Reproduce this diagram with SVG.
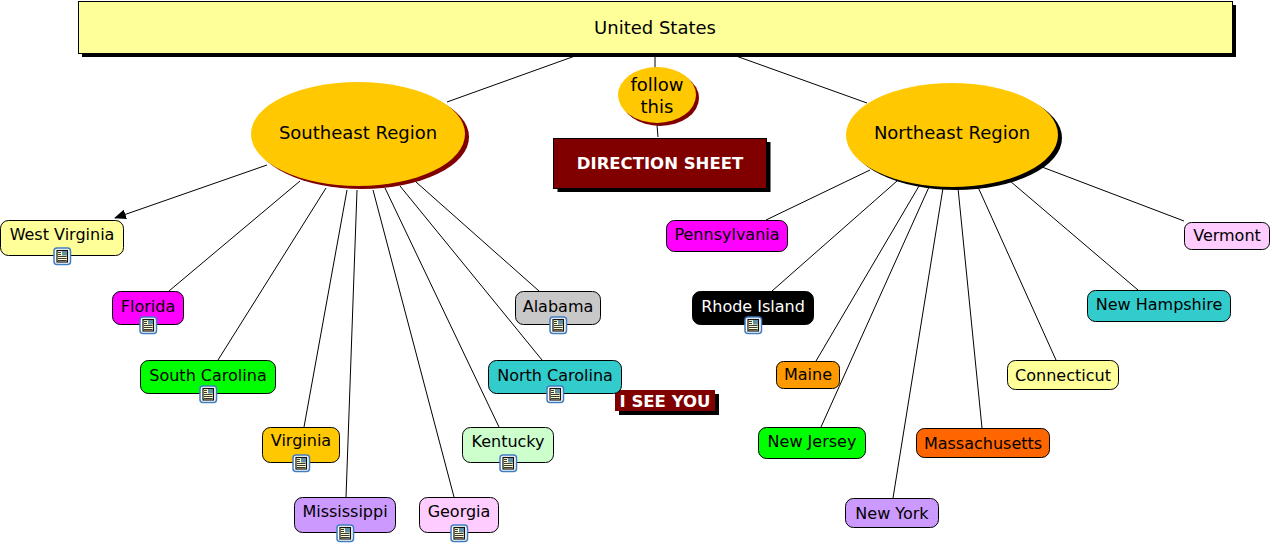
<svg xmlns="http://www.w3.org/2000/svg" width="1272" height="545" viewBox="0 0 1272 545">
<style>
text{font-family:"DejaVu Sans",Verdana,sans-serif;font-size:16px;text-anchor:middle;fill:#000}
.l{font-size:18px}
.n{stroke:#000;stroke-width:1}
.b{font-weight:bold;fill:#fff;font-size:16.500px}
#edges line{stroke:#000;stroke-width:1}
</style>
<defs>
<marker id="arrow" markerUnits="userSpaceOnUse" markerWidth="12" markerHeight="10" refX="11" refY="5" orient="auto"><path d="M0 0L12 5L0 10Z" fill="#000"/></marker>
<g id="doc">
<rect x="-8" y="-8" width="16.500" height="16.500" rx="3" fill="#fff" stroke="#3f7cc0" stroke-width="1.500"/>
<rect x="-5" y="-5.500" width="10.500" height="11.500" fill="#fffbd0" stroke="#111" stroke-width="1.200"/>
<rect x="0" y="-5" width="5" height="4.500" fill="#5f8fa0"/>
<path d="M-4-3.500H-1M-4-1.500H-1M-4 .5H4.500M-4 2.500H4.500M-4 4.500H4.500" stroke="#222" stroke-width=".9" fill="none"/>
</g>
</defs>
<g id="edges">
<line x1="575" y1="56" x2="447" y2="102"/>
<line x1="655" y1="56" x2="655" y2="68"/>
<line x1="736" y1="56" x2="867" y2="103"/>
<line x1="657" y1="125" x2="658" y2="137"/>
<line x1="267" y1="165" x2="115" y2="218" marker-end="url(#arrow)"/>
<line x1="300" y1="181" x2="169" y2="291"/>
<line x1="326" y1="188" x2="218" y2="360"/>
<line x1="347" y1="190" x2="304" y2="427"/>
<line x1="357" y1="190" x2="346" y2="497"/>
<line x1="373" y1="190" x2="454" y2="497"/>
<line x1="385" y1="188" x2="499" y2="427"/>
<line x1="400" y1="186" x2="542" y2="360"/>
<line x1="416" y1="182" x2="539" y2="291"/>
<line x1="870" y1="170" x2="766" y2="220"/>
<line x1="897" y1="181" x2="772" y2="291"/>
<line x1="919" y1="186" x2="816" y2="361"/>
<line x1="929" y1="187" x2="821" y2="427"/>
<line x1="943" y1="188" x2="893" y2="498"/>
<line x1="958" y1="188" x2="982" y2="428"/>
<line x1="978" y1="187" x2="1056" y2="360"/>
<line x1="1010" y1="181" x2="1138" y2="290"/>
<line x1="1042" y1="167" x2="1184" y2="221"/>
</g>
<g id="united-states"><rect x="82" y="5" width="1154" height="52" fill="#000"/><rect class="n" x="78.500" y="1.500" width="1154" height="52" fill="#ffff99"/><text class="l" x="655" y="34">United States</text></g>
<g id="southeast"><ellipse cx="362" cy="137" rx="107" ry="52" fill="#800000"/><ellipse cx="358" cy="134" rx="107" ry="52" fill="#ffc800"/><text class="l" x="358" y="139">Southeast Region</text></g>
<g id="northeast"><ellipse cx="956" cy="138" rx="106" ry="52" fill="#000"/><ellipse cx="952" cy="135" rx="106" ry="52" fill="#ffc800"/><text class="l" x="952" y="139">Northeast Region</text></g>
<g id="follow"><ellipse cx="660" cy="98" rx="39" ry="28" fill="#800000"/><ellipse cx="657" cy="95" rx="39" ry="28" fill="#ffc800"/><text class="l" x="657" y="91">follow</text><text class="l" x="657" y="113">this</text></g>
<g id="direction"><rect x="557.500" y="142" width="213" height="50" fill="#000"/><rect class="n" x="553.500" y="138.500" width="213" height="50" fill="#800000"/><text class="b" x="660" y="169">DIRECTION SHEET</text></g>
<g id="iseeyou"><rect x="619" y="394" width="100" height="21" fill="#000"/><rect x="615" y="390" width="100" height="21" fill="#800000"/><text class="b" x="665" y="407">I SEE YOU</text></g>
<g id="west-virginia"><rect class="n" x=".5" y="220.500" width="123" height="35" rx="8" fill="#ffff99"/><text x="62" y="240">West Virginia</text><use href="#doc" x="62" y="256"/></g>
<g id="florida"><rect class="n" x="112.500" y="291.500" width="71" height="33" rx="8" fill="#ff00ff"/><text x="148" y="312">Florida</text><use href="#doc" x="148" y="325"/></g>
<g id="south-carolina"><rect class="n" x="140.500" y="360.500" width="135" height="33" rx="8" fill="#00ff00"/><text x="208" y="381">South Carolina</text><use href="#doc" x="208" y="394"/></g>
<g id="virginia"><rect class="n" x="262.500" y="427.500" width="77" height="35" rx="8" fill="#ffc800"/><text x="301" y="446">Virginia</text><use href="#doc" x="301" y="463"/></g>
<g id="mississippi"><rect class="n" x="294.500" y="497.500" width="101" height="35" rx="8" fill="#cc99ff"/><text x="345" y="517">Mississippi</text><use href="#doc" x="345" y="533"/></g>
<g id="georgia"><rect class="n" x="419.500" y="497.500" width="79" height="35" rx="8" fill="#ffccff"/><text x="459" y="517">Georgia</text><use href="#doc" x="459" y="533"/></g>
<g id="kentucky"><rect class="n" x="462.500" y="427.500" width="91" height="35" rx="8" fill="#ccffcc"/><text x="508" y="447">Kentucky</text><use href="#doc" x="508" y="463"/></g>
<g id="north-carolina"><rect class="n" x="488.500" y="360.500" width="133" height="33" rx="8" fill="#33cccc"/><text x="555" y="381">North Carolina</text><use href="#doc" x="555" y="394"/></g>
<g id="alabama"><rect class="n" x="515.500" y="291.500" width="85" height="33" rx="8" fill="#c8c8c8"/><text x="558" y="312">Alabama</text><use href="#doc" x="558" y="325"/></g>
<g id="pennsylvania"><rect class="n" x="666.500" y="220.500" width="121" height="31" rx="8" fill="#ff00ff"/><text x="727" y="240">Pennsylvania</text></g>
<g id="rhode-island"><rect class="n" x="692.500" y="291.500" width="121" height="33" rx="8" fill="#000"/><text x="753" y="312" style="fill:#fff">Rhode Island</text><use href="#doc" x="753" y="325"/></g>
<g id="maine"><rect class="n" x="776.500" y="361.500" width="63" height="27" rx="7" fill="#ff9900"/><text x="808" y="380">Maine</text></g>
<g id="new-jersey"><rect class="n" x="758.500" y="427.500" width="107" height="31" rx="8" fill="#00ff00"/><text x="812" y="447">New Jersey</text></g>
<g id="new-york"><rect class="n" x="845.500" y="498.500" width="93" height="29" rx="8" fill="#cc99ff"/><text x="892" y="519">New York</text></g>
<g id="massachusetts"><rect class="n" x="916.500" y="428.500" width="133" height="29" rx="8" fill="#ff6600"/><text x="983" y="449">Massachusetts</text></g>
<g id="connecticut"><rect class="n" x="1007.500" y="360.500" width="111" height="29" rx="8" fill="#ffff99"/><text x="1063" y="381">Connecticut</text></g>
<g id="new-hampshire"><rect class="n" x="1087.500" y="290.500" width="143" height="31" rx="8" fill="#33cccc"/><text x="1159" y="310">New Hampshire</text></g>
<g id="vermont"><rect class="n" x="1184.500" y="222.500" width="85" height="27" rx="7" fill="#ffccff"/><text x="1227" y="241">Vermont</text></g>
</svg>
